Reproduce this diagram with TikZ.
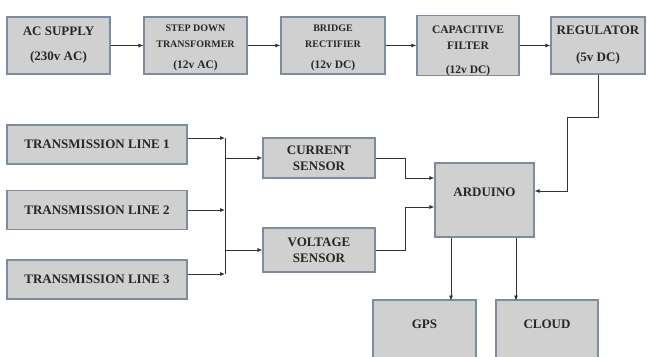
\documentclass[tikz,border=0pt]{standalone}
\usepackage{fontspec}
\setmainfont{Liberation Serif}
\usetikzlibrary{positioning,arrows.meta,calc}
\definecolor{blkfill}{HTML}{D0D0D0}
\definecolor{blkline}{HTML}{7E8CA0}
\definecolor{wire}{HTML}{333333}
\newcommand{\smf}{\fontsize{10}{12}\selectfont}
\newcommand{\mdf}{\fontsize{11.5}{14}\selectfont}

\tikzset{
  blk/.style={draw=blkline, fill=blkfill, line width=1.1pt, inner sep=0pt,
    align=center, text=black!85, font=\fontsize{13}{16}\selectfont\bfseries},
  arr/.style={draw=wire, line width=0.8pt, -{Latex[length=5pt,width=4pt]}},
}

\begin{document}
\begin{tikzpicture}[x=1pt,y=-1pt]
  \useasboundingbox (0,0) rectangle (652,356);
  \fill[white] (0,0) rectangle (652,356);
  % power supply chain
  \node[blk, minimum width=103pt, minimum height=57pt] (acs) at (58.5,45.5) {AC SUPPLY\\[9pt](230v AC)};
  \node[blk, minimum width=103pt, minimum height=57pt] (stepdn) at (195.5,45.5) {\smf\rule{0pt}{11pt}STEP DOWN\\\smf TRANSFORMER\\[5pt]\mdf (12v AC)};
  \node[blk, minimum width=104pt, minimum height=57pt] (bridge) at (333,45.5) {\smf\rule{0pt}{11pt}BRIDGE\\\smf RECTIFIER\\[5pt]\mdf (12v DC)};
  \node[blk, minimum width=102pt, minimum height=57pt] (capf) at (468,45.5) {\mdf\rule{0pt}{18pt}CAPACITIVE\\\mdf FILTER\\[8pt]\mdf (12v DC)};
  \node[blk, minimum width=94pt, minimum height=57pt] (reg) at (598,45.5) {REGULATOR\\[11pt](5v DC)};
  \draw[arr] (acs) -- (stepdn);
  \draw[arr] (stepdn) -- (bridge);
  \draw[arr] (bridge) -- (capf);
  \draw[arr] (capf) -- (reg);

  % transmission lines and sensors
  \node[blk, minimum width=180pt, minimum height=39pt] (tl1) at (97,144.5) {TRANSMISSION LINE 1};
  \node[blk, minimum width=180pt, minimum height=39pt] (tl2) at (97,210) {TRANSMISSION LINE 2};
  \node[blk, minimum width=180pt, minimum height=39pt] (tl3) at (97,279.5) {TRANSMISSION LINE 3};
  \node[blk, minimum width=112pt, minimum height=40pt] (cur) at (319,158) {CURRENT\\SENSOR};
  \node[blk, minimum width=112pt, minimum height=44pt] (volt) at (319,250) {VOLTAGE\\SENSOR};
  \coordinate (b1) at (225,138);
  \coordinate (b2) at (225,210);
  \coordinate (b3) at (225,274);
  \draw[arr] ($(tl1.east)+(0,-6.5)$) -- (b1);
  \draw[arr] (tl2.east) -- (b2);
  \draw[arr] ($(tl3.east)+(0,-5.5)$) -- (b3);
  \draw[draw=wire, line width=0.8pt] (b1) -- (b3);
  \draw[arr] (b1 |- cur.west) -- (cur.west);
  \draw[arr] (b1 |- volt.west) -- (volt.west);

  % controller and outputs
  \node[blk, minimum width=99pt, minimum height=74pt, text depth=16pt] (ard) at (484.5,200) {ARDUINO};
  \node[blk, minimum width=103pt, minimum height=60pt, text depth=12pt] (gps) at (424.5,330) {GPS};
  \node[blk, minimum width=102pt, minimum height=60pt, text depth=12pt] (cloud) at (547,330) {CLOUD};
  \draw[arr] (cur.east) -- ++(30,0) |- ($(ard.west)+(0,-22)$);
  \draw[arr] (volt.east) -- ++(30,0) |- ($(ard.west)+(0,7)$);
  \draw[arr] (reg.south) -- ++(0,43) -| ($(ard.east)+(33,-9)$) -- ($(ard.east)+(0,-9)$);
  \draw[arr] ($(ard.south)+(-33.5,0)$) -- ++(0,63);
  \draw[arr] ($(ard.south)+(31.5,0)$) -- ++(0,63);
\end{tikzpicture}
\end{document}
